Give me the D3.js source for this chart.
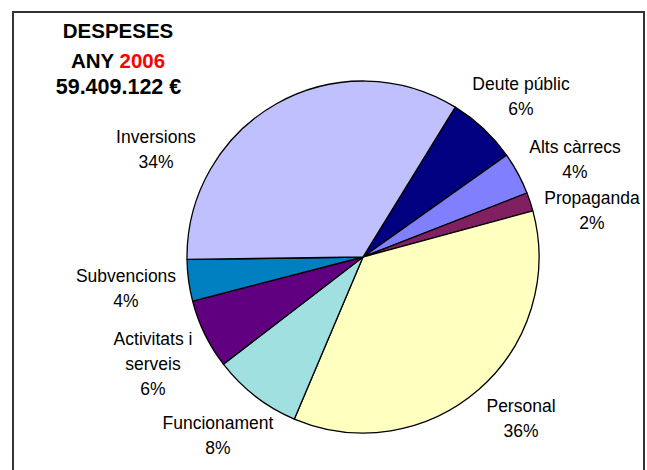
<!DOCTYPE html>
<html>
<head>
<meta charset="utf-8">
<script src="https://cdn.jsdelivr.net/npm/d3@7"></script>
<style>
  html, body { margin: 0; padding: 0; background: #fff; }
  svg { display: block; }
  text { font-family: "Liberation Sans", Arial, sans-serif; }
</style>
</head>
<body>
<svg id="chart" width="647" height="470"></svg>
<script>
// Data (clockwise from the "Deute públic" slice)
const categories = ["Deute públic", "Alts càrrecs", "Propaganda", "Personal", "Funcionament", "Activitats i serveis", "Subvencions", "Inversions"];
const labelLines = [["Deute públic"], ["Alts càrrecs"], ["Propaganda"], ["Personal"], ["Funcionament"], ["Activitats i", "serveis"], ["Subvencions"], ["Inversions"]];
const values = [6.4, 3.9, 1.7, 35.6, 8.2, 6.4, 3.8, 34.0];
const percentLabels = ["6%", "4%", "2%", "36%", "8%", "6%", "4%", "34%"];
const colors = ["#000080", "#8080FF", "#802060", "#FFFFC0", "#A0E0E0", "#600080", "#0080C0", "#C0C0FF"];
const titleLines = ["DESPESES", "ANY ", "2006", "59.409.122 €"];
// label anchor points (centre x, first baseline y)
const labelPos = [[521, 90], [575, 153], [592, 204], [521, 412], [218, 429], [153, 345], [126, 282], [156, 143]];

const svg = d3.select("#chart");

// frame
svg.append("rect")
  .attr("x", 13).attr("y", 12)
  .attr("width", 631).attr("height", 470)
  .attr("fill", "none").attr("stroke", "#333").attr("stroke-width", 2);

const cx = 363, cy = 257, r = 176;
const startDeg = 31.6;

const pie = d3.pie().sort(null).value(d => d)
  .startAngle(startDeg * Math.PI / 180)
  .endAngle((startDeg + 360) * Math.PI / 180);
const arc = d3.arc().innerRadius(0).outerRadius(r);

const g = svg.append("g").attr("transform", `translate(${cx},${cy})`);
g.selectAll("path")
  .data(pie(values))
  .join("path")
  .attr("d", arc)
  .attr("fill", (d, i) => colors[i])
  .attr("stroke", "#000")
  .attr("stroke-width", 1.3)
  .attr("stroke-linejoin", "round");

// labels
const lineH = 25;
categories.forEach((c, i) => {
  const [x, y] = labelPos[i];
  const lines = labelLines[i].concat([percentLabels[i]]);
  const t = svg.append("text")
    .attr("text-anchor", "middle")
    .attr("font-size", "17.5px")
    .attr("fill", "#000");
  lines.forEach((ln, k) => {
    t.append("tspan").attr("x", x).attr("y", y + k * lineH).text(ln);
  });
});

// title
const tt = svg.append("g").attr("font-weight", "bold").attr("font-size", "20.5px").attr("text-anchor", "middle");
tt.append("text").attr("x", 118).attr("y", 38).text(titleLines[0]);
const t2 = tt.append("text").attr("x", 118).attr("y", 68);
t2.append("tspan").text(titleLines[1]);
t2.append("tspan").attr("fill", "#FF0000").text(titleLines[2]);
tt.append("text").attr("x", 118.5).attr("y", 94).attr("font-size", "21.5px").text(titleLines[3]);
</script>
</body>
</html>
